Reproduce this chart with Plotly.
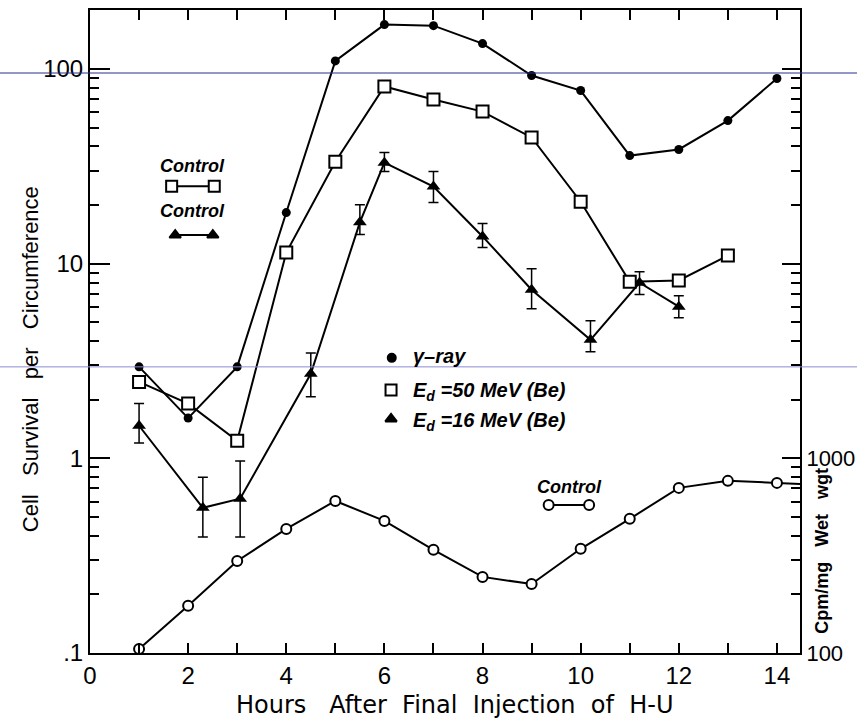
import plotly.graph_objects as go

# ---------------- data ----------------
hours_gamma = [1, 2, 3, 4, 5, 6, 7, 8, 9, 10, 11, 12, 13, 14]
survival_gamma = [2.95, 1.61, 2.95, 18.3, 110, 169, 167, 135, 92.6, 77.5, 35.9, 38.6, 54.3, 89.4]

hours_50mev = [1, 2, 3, 4, 5, 6, 7, 8, 9, 10, 11, 12, 13]
survival_50mev = [2.47, 1.91, 1.23, 11.4, 33.4, 81.3, 69.7, 60.4, 44.5, 20.8, 8.07, 8.2, 11.0]

hours_16mev = [1, 2.3, 3.06, 4.5, 5.5, 6, 7, 8, 9, 10.2, 11.2, 12]
survival_16mev = [1.47, 0.557, 0.62, 2.72, 16.3, 33.0, 24.9, 13.8, 7.35, 4.06, 7.98, 6.01]
err_high_16mev = [1.91, 0.80, 0.97, 3.48, 20.1, 37.2, 29.7, 16.1, 9.42, 5.09, 9.1, 6.85]
err_low_16mev = [1.20, 0.394, 0.394, 2.07, 14.1, 29.7, 20.6, 12.1, 5.87, 3.53, 6.94, 5.27]

hours_control = [1, 2, 3, 4, 5, 6, 7, 8, 9, 10, 11, 12, 13, 14]
cpm_control = [105, 175, 297, 434, 604, 477, 339, 246, 226, 343, 489, 705, 766, 748]
hours_control_tail = [14, 14.47]
cpm_control_tail = [748, 738]

x_tick_vals = [0, 2, 4, 6, 8, 10, 12, 14]
x_minor_vals = [1, 3, 5, 7, 9, 11, 13]
y_tick_vals = [0.1, 1, 10, 100]
y_tick_text = [".1", "1", "10", "100"]
y2_tick_vals = [100, 1000, 10000, 100000]
y2_tick_text = ["100", "1000", "", ""]

FONT = "Liberation Sans"
TITLE_FONT = "DejaVu Sans"

def minor_log(decades):
    return [m * 10 ** d for d in decades for m in range(2, 10)]

fig = go.Figure()

fig.add_trace(go.Scatter(
    x=hours_gamma, y=survival_gamma, mode="lines+markers",
    line=dict(color="black", width=2),
    marker=dict(symbol="circle", size=9, color="black"),
    showlegend=False))

fig.add_trace(go.Scatter(
    x=hours_16mev, y=survival_16mev, mode="lines+markers",
    line=dict(color="black", width=2),
    marker=dict(symbol="triangle-up", size=12, color="black"),
    error_y=dict(type="data", symmetric=False,
                 array=[h - v for h, v in zip(err_high_16mev, survival_16mev)],
                 arrayminus=[v - l for v, l in zip(survival_16mev, err_low_16mev)],
                 color="black", thickness=1.5, width=5),
    showlegend=False))

fig.add_trace(go.Scatter(
    x=hours_50mev, y=survival_50mev, mode="lines+markers",
    line=dict(color="black", width=2),
    marker=dict(symbol="square", size=12, color="white",
                line=dict(color="black", width=2)),
    showlegend=False))

fig.add_trace(go.Scatter(
    x=hours_control_tail, y=cpm_control_tail, mode="lines",
    line=dict(color="black", width=2), yaxis="y2",
    showlegend=False))

fig.add_trace(go.Scatter(
    x=hours_control, y=cpm_control, mode="lines+markers",
    line=dict(color="black", width=2),
    marker=dict(symbol="circle", size=10, color="white",
                line=dict(color="black", width=2)),
    yaxis="y2", showlegend=False))

# ---- in-plot key glyphs (paper-like overlay axes) ----
def key_trace(xs, ys, symbol, fill, size, line=True):
    return go.Scatter(
        x=xs, y=ys, xaxis="x3", yaxis="y3",
        mode="lines+markers" if line else "markers",
        line=dict(color="black", width=2),
        marker=dict(symbol=symbol, size=size, color=fill,
                    line=dict(color="black", width=2)),
        showlegend=False, hoverinfo="skip", cliponaxis=False)

fig.add_trace(key_trace([0.425], [0.459], "circle", "black", 8, False))
fig.add_trace(key_trace([0.424], [0.409], "square", "white", 11, False))
fig.add_trace(key_trace([0.424], [0.364], "triangle-up", "black", 10, False))
fig.add_trace(key_trace([0.115, 0.175], [0.726, 0.726], "square", "white", 11))
fig.add_trace(key_trace([0.120, 0.173], [0.650, 0.650], "triangle-up", "black", 10))
fig.add_trace(key_trace([0.646, 0.703], [0.230, 0.230], "circle", "white", 10))

tickfont = dict(family=FONT, size=24, color="black")

fig.update_layout(
    width=857, height=720,
    margin=dict(l=90, r=57, t=10, b=67),
    paper_bgcolor="white", plot_bgcolor="white",
    font=dict(family=FONT, color="black"),
    xaxis=dict(range=[0, 14.47], tickmode="array", tickvals=x_tick_vals,
               ticks="inside", ticklen=10, tickwidth=2, tickcolor="black",
               minor=dict(tickmode="array", tickvals=x_minor_vals, ticks="inside",
                          ticklen=10, tickwidth=2, tickcolor="black"),
               showline=True, linewidth=2, linecolor="black", mirror="ticks",
               showgrid=False, zeroline=False, tickfont=tickfont, automargin=False),
    yaxis=dict(type="log", range=[-1, 2.303], tickmode="array",
               tickvals=y_tick_vals, ticktext=y_tick_text,
               ticks="inside", ticklen=20, tickwidth=2, tickcolor="black",
               minor=dict(tickmode="array", tickvals=minor_log([-1, 0, 1, 2]),
                          ticks="inside", ticklen=9, tickwidth=2, tickcolor="black"),
               showline=True, linewidth=2, linecolor="black",
               showgrid=False, zeroline=False, tickfont=tickfont, automargin=False),
    yaxis2=dict(type="log", range=[2, 5.303], overlaying="y", side="right",
                tickmode="array", tickvals=y2_tick_vals, ticktext=y2_tick_text,
                ticks="inside", ticklen=18, tickwidth=2, tickcolor="black",
                minor=dict(tickmode="array", tickvals=minor_log([2, 3, 4, 5]),
                           ticks="inside", ticklen=9, tickwidth=2, tickcolor="black"),
                showline=True, linewidth=2, linecolor="black",
                showgrid=False, zeroline=False,
                tickfont=dict(family=FONT, size=22, color="black"), automargin=False),
    xaxis3=dict(overlaying="x", range=[0, 1], visible=False, automargin=False),
    yaxis3=dict(overlaying="y", range=[0, 1], visible=False, automargin=False),
)

NB = "\u00a0"
key_font = dict(size=20, style="italic", weight="bold")
ctl_font = dict(size=18, style="italic", weight="bold")
ann = [
    dict(text=f"Hours{NB*3}After{NB*2}Final{NB*2}Injection{NB*2}of{NB*2}H-U",
         x=0.514, y=-0.081, font=dict(size=24, family=TITLE_FONT)),
    dict(text=f"Cell{NB*3}Survival{NB*3}per{NB*3}Circumference", x=-0.0845, y=0.457,
         textangle=-90, font=dict(size=22)),
    dict(text=f"Cpm/mg{NB*3}Wet{NB*3}wgt", x=1.031, y=0.159, textangle=-90,
         font=dict(size=18, weight="bold")),
    dict(text="γ–ray", x=0.452, y=0.462, xanchor="left", font=key_font),
    dict(text=f"E<sub>d</sub>{NB}=50 MeV (Be)", x=0.452, y=0.406, xanchor="left", font=key_font),
    dict(text=f"E<sub>d</sub>{NB}=16 MeV (Be)", x=0.452, y=0.360, xanchor="left", font=key_font),
    dict(text="Control", x=0.145, y=0.757, font=ctl_font),
    dict(text="Control", x=0.145, y=0.687, font=ctl_font),
    dict(text="Control", x=0.676, y=0.258, font=ctl_font),
]
for a in ann:
    a.setdefault("xanchor", "center")
    f = dict(family=FONT, color="black")
    f.update(a.pop("font"))
    fig.add_annotation(xref="paper", yref="paper", showarrow=False, yanchor="middle",
                       font=f, **a)

# scan guide lines
fig.add_shape(type="line", xref="paper", yref="paper", x0=-0.127, x1=1.081,
              y0=0.902, y1=0.902, line=dict(color="#26318a", width=1), layer="above")
fig.add_shape(type="line", xref="paper", yref="paper", x0=-0.127, x1=1.081,
              y0=0.445, y1=0.445, line=dict(color="#8c8cd2", width=1), layer="above")

fig.write_html("out.html")
